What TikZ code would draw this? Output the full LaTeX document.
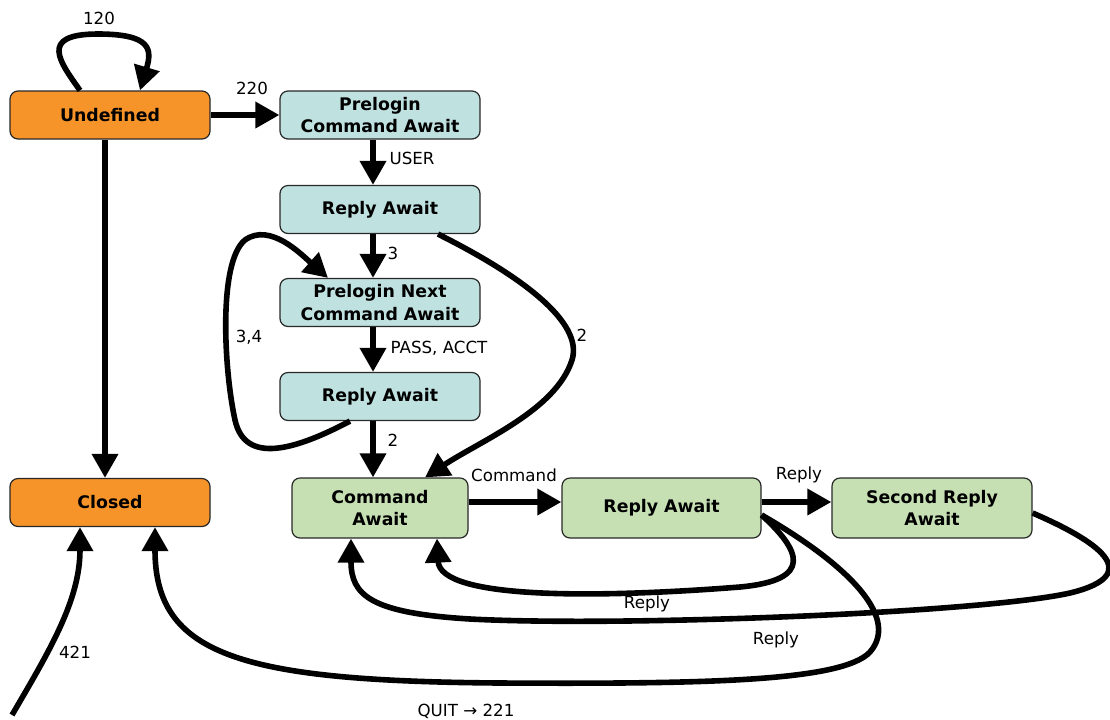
\documentclass[tikz,border=0pt]{standalone}
\usepackage{fontspec}
\setmainfont{DejaVu Sans}
\usetikzlibrary{arrows.meta,calc}
\definecolor{stOrange}{RGB}{247,148,41}
\definecolor{stBlue}{RGB}{191,225,224}
\definecolor{stGreen}{RGB}{198,224,180}
\definecolor{stBorder}{RGB}{40,40,40}

\begin{document}
\begin{tikzpicture}[x=0.75pt,y=-0.75pt,
  state/.style={draw=stBorder, line width=0.9pt, rounded corners=6pt, align=center,
    font=\fontsize{13}{17}\selectfont\bfseries, inner sep=2pt},
  orangestate/.style={state, fill=stOrange, minimum width=150pt, minimum height=36pt},
  bluestate/.style={state, fill=stBlue, minimum width=150pt, minimum height=36pt},
  greenstate/.style={state, fill=stGreen, minimum height=45pt},
  trans/.style={line width=4.2pt, -{Triangle[length=18pt,width=19pt]}},
  lbl/.style={font=\fontsize{12.5}{15}\selectfont, inner sep=1pt}
]
\useasboundingbox (0,0) rectangle (1110,719);

% states
\node[orangestate] (und) at (110,115) {Undefined};
\node[orangestate] (cl) at (110,502.5) {Closed};
\node[bluestate] (pca) at (380,115) {Prelogin\\Command Await};
\node[bluestate] (ra1) at (380,209.5) {Reply Await};
\node[bluestate] (pnca) at (380,302.5) {Prelogin Next\\Command Await};
\node[bluestate] (ra2) at (380,396.5) {Reply Await};
\node[greenstate, minimum width=132pt] (ca) at (380,508) {Command\\Await};
\node[greenstate, minimum width=149.25pt] (ra3) at (661.5,508) {Reply Await};
\node[greenstate, minimum width=150pt] (sra) at (932,508) {Second Reply\\Await};
\coordinate (src421) at (12,715);

% transitions
\draw[trans] ($(und.north)+(-30,0)$) .. controls (60,62) and (38,34) .. (98,34)
  .. controls (152,34) and (152,50) .. ($(und.north)+(30,0)$);
\draw[trans] (und.east) -- (pca.west);
\draw[trans] ($(und.south)+(-5,0)$) -- ($(cl.north)+(-5,0)$);
\draw[trans] ($(pca.south)+(-7,0)$) -- ($(ra1.north)+(-7,0)$);
\draw[trans] ($(ra1.south)+(-7,0)$) -- ($(pnca.north)+(-7,0)$);
\draw[trans] ($(pnca.south)+(-7,0)$) -- ($(ra2.north)+(-7,0)$);
\draw[trans] ($(ra2.south)+(-7,0)$) -- ($(ca.north)+(-7,0)$);
\draw[trans] ($(ra2.south)+(-30,0)$) .. controls (295,450) and (245,465) .. (235,420)
  .. controls (224,370) and (218,262) .. (245,240)
  .. controls (270,222) and (302,255) .. ($(pnca.north)+(-52,0)$);
\draw[trans] ($(ra1.south)+(58,0)$) .. controls (520,275) and (584,322) .. (572,360)
  .. controls (556,410) and (482,440) .. ($(ca.north)+(45,0)$);
\draw[trans] ($(ca.east)+(0,-6)$) -- ($(ra3.west)+(0,-6)$);
\draw[trans] ($(ra3.east)+(0,-6)$) -- ($(sra.west)+(0,-6)$);
\draw[trans] ($(ra3.east)+(0,7)$) .. controls (800,550) and (815,580) .. (740,587)
  .. controls (600,598) and (440,600) .. ($(ca.south)+(57,0)$);
\draw[trans] ($(sra.east)+(0,5)$) .. controls (1095,540) and (1148,574) .. (1070,593)
  .. controls (980,613) and (620,627) .. (470,619)
  .. controls (370,613) and (351,595) .. ($(ca.south)+(-29,0)$);
\draw[trans] ($(ra3.east)+(0,7)$) .. controls (840,560) and (902,615) .. (870,652)
  .. controls (842,682) and (700,684) .. (500,683)
  .. controls (240,681) and (155,655) .. ($(cl.south)+(45,0)$);
\draw[trans] (src421) .. controls (50,650) and (80,600) .. ($(cl.south)+(-30,0)$);

% labels
\node[lbl] (l120) at (99,18) {120};
\node[lbl] (l220) at (252,88) {220};
\node[lbl] (luser) at (412,158) {USER};
\node[lbl] (l3) at (393,253) {3};
\node[lbl] (l34) at (249,337) {3,4};
\node[lbl] (lpass) at (439,348) {PASS, ACCT};
\node[lbl] (l2a) at (393,440) {2};
\node[lbl] (l2b) at (582,335) {2};
\node[lbl] (lcmd) at (514,475) {Command};
\node[lbl] (lrep1) at (799,475) {Reply};
\node[lbl] (lrep2) at (647,604) {Reply};
\node[lbl] (lrep3) at (776,640) {Reply};
\node[lbl] (lquit) at (466,711) {QUIT → 221};
\node[lbl] (l421) at (75,652) {421};
\end{tikzpicture}
\end{document}
